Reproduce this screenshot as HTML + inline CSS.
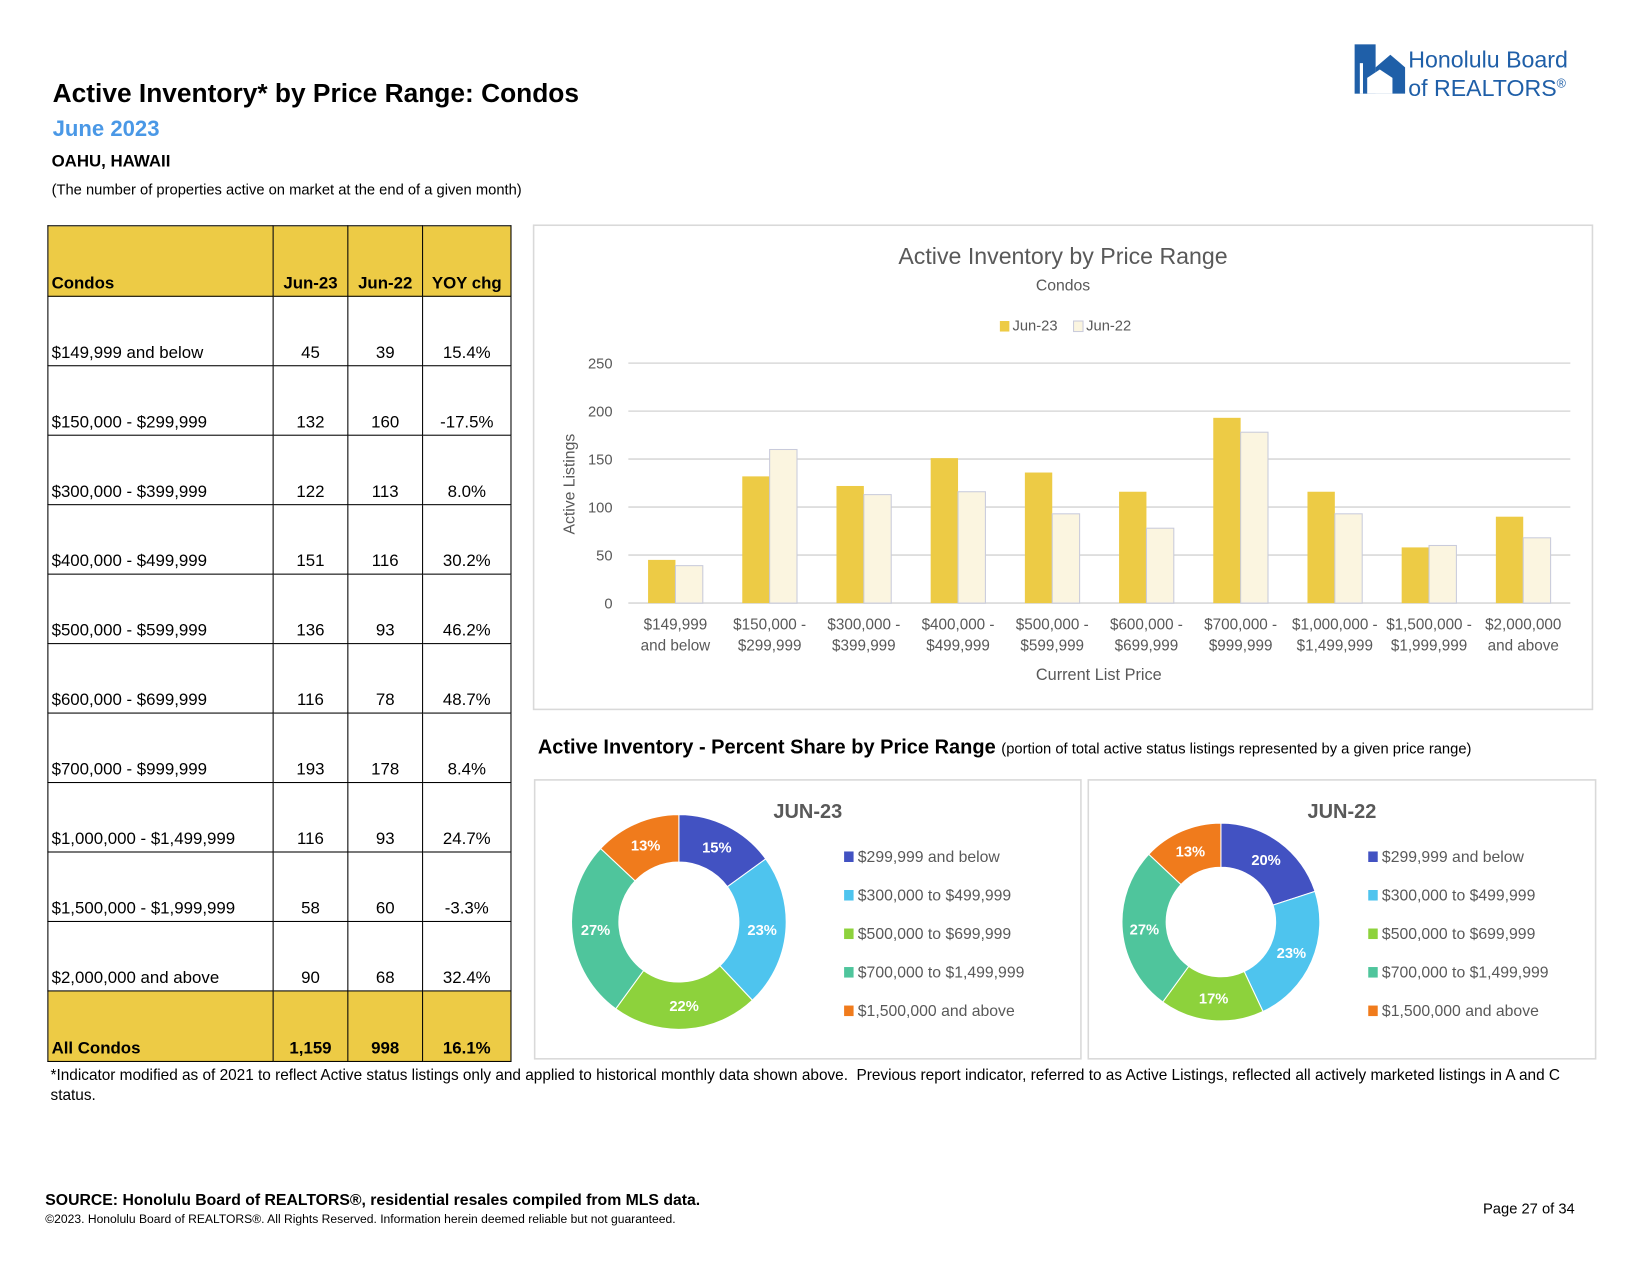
<!DOCTYPE html>
<html><head><meta charset="utf-8"><style>
html,body{margin:0;padding:0;background:#fff;}
body{width:1650px;height:1275px;overflow:hidden;position:relative;font-family:"Liberation Sans",sans-serif;}
#wrap{position:absolute;left:0;top:0;width:1560px;height:1205px;transform:scale(1.0525);transform-origin:0 0;}
.abs{position:absolute;}
table{border-collapse:collapse;position:absolute;left:45px;top:214px;font-size:16px;}
td{border:1.5px solid #000;padding:0 3px 2px 3px;vertical-align:bottom;height:63px;}
td.n{text-align:center;}
tr.h td{background:#EDCB45;font-weight:bold;height:64px;}
</style></head><body>
<div id="wrap">
<div class="abs" style="left:50px;top:75px;font-size:25px;font-weight:bold;">Active Inventory* by Price Range: Condos</div>
<div class="abs" style="left:50px;top:111px;font-size:21px;font-weight:bold;color:#4A98E6;">June 2023</div>
<div class="abs" style="left:49px;top:145px;font-size:16px;font-weight:bold;">OAHU, HAWAII</div>
<div class="abs" style="left:49px;top:172px;font-size:14px;">(The number of properties active on market at the end of a given month)</div>
<div class="abs" style="left:1287px;top:42px;width:240px;height:50px;">
<svg width="50" height="48"><rect x="0" y="0" width="20" height="47" fill="#1F5FA8"/><polygon points="20,47 20,22 34,10 48,22 48,47" fill="#1F5FA8"/><polygon points="12,47 12,32 24,24 36,32 36,47" fill="#fff"/><rect x="5" y="18" width="3" height="29" fill="#fff"/></svg>
<div class="abs" style="left:51px;top:4px;color:#1F5FA8;font-size:22px;line-height:22px;white-space:nowrap;">Honolulu Board<br>of REALTORS<sup style="font-size:12px">®</sup></div>
</div>
<table>
<tr class="h"><td style="width:207px">Condos</td><td class="n" style="width:64px">Jun-23</td><td class="n" style="width:64px">Jun-22</td><td class="n" style="width:77px">YOY chg</td></tr>
<tr><td>$149,999 and below</td><td class="n">45</td><td class="n">39</td><td class="n">15.4%</td></tr>
<tr><td>$150,000 - $299,999</td><td class="n">132</td><td class="n">160</td><td class="n">-17.5%</td></tr>
<tr><td>$300,000 - $399,999</td><td class="n">122</td><td class="n">113</td><td class="n">8.0%</td></tr>
<tr><td>$400,000 - $499,999</td><td class="n">151</td><td class="n">116</td><td class="n">30.2%</td></tr>
<tr><td>$500,000 - $599,999</td><td class="n">136</td><td class="n">93</td><td class="n">46.2%</td></tr>
<tr><td>$600,000 - $699,999</td><td class="n">116</td><td class="n">78</td><td class="n">48.7%</td></tr>
<tr><td>$700,000 - $999,999</td><td class="n">193</td><td class="n">178</td><td class="n">8.4%</td></tr>
<tr><td>$1,000,000 - $1,499,999</td><td class="n">116</td><td class="n">93</td><td class="n">24.7%</td></tr>
<tr><td>$1,500,000 - $1,999,999</td><td class="n">58</td><td class="n">60</td><td class="n">-3.3%</td></tr>
<tr><td>$2,000,000 and above</td><td class="n">90</td><td class="n">68</td><td class="n">32.4%</td></tr>
<tr class="h"><td>All Condos</td><td class="n">1,159</td><td class="n">998</td><td class="n">16.1%</td></tr>
</table>
<svg id="bar" class="abs" style="left:0;top:0" width="1560" height="1205"></svg>
<div class="abs" style="left:511px;top:700px;font-size:19px;font-weight:bold;">Active Inventory - Percent Share by Price Range <span style="font-size:14px;font-weight:normal">(portion of total active status listings represented by a given price range)</span></div>
<div class="abs" style="left:48px;top:1013px;width:1475px;font-size:14.6px;line-height:19px;">*Indicator modified as of 2021 to reflect Active status listings only and applied to historical monthly data shown above.&nbsp; Previous report indicator, referred to as Active Listings, reflected all actively marketed listings in A and C status.</div>
<div class="abs" style="left:43px;top:1132px;font-size:15px;font-weight:bold;">SOURCE: Honolulu Board of REALTORS®, residential resales compiled from MLS data.</div>
<div class="abs" style="left:43px;top:1153px;font-size:11.5px;">©2023. Honolulu Board of REALTORS®. All Rights Reserved. Information herein deemed reliable but not guaranteed.</div>
<div class="abs" style="left:1409px;top:1140px;font-size:14px;">Page 27 of 34</div>
</div>
<script>
const categories=[["$149,999","and below"],["$150,000 -","$299,999"],["$300,000 -","$399,999"],["$400,000 -","$499,999"],["$500,000 -","$599,999"],["$600,000 -","$699,999"],["$700,000 -","$999,999"],["$1,000,000 -","$1,499,999"],["$1,500,000 -","$1,999,999"],["$2,000,000","and above"]];
const jun23=[45,132,122,151,136,116,193,116,58,90];
const jun22=[39,160,113,116,93,78,178,93,60,68];
const yTicks=[0,50,100,150,200,250];
const pieLabels=["$299,999 and below","$300,000 to $499,999","$500,000 to $699,999","$700,000 to $1,499,999","$1,500,000 and above"];
const pie23=[15,23,22,27,13];
const pie22=[20,23,17,27,13];
const pieColors=["#4252C2","#4EC4EE","#8DD23C","#4FC59C","#F07B1C"];
const NS="http://www.w3.org/2000/svg";
const svg=document.getElementById('bar');
function mk(tag,attrs,parent){const e=document.createElementNS(NS,tag);for(const k in attrs)e.setAttribute(k,attrs[k]);(parent||svg).appendChild(e);return e;}
function txt(s,attrs,parent){const e=mk('text',attrs,parent);e.textContent=s;return e;}
const F='"Liberation Sans",sans-serif';
let b=mk('rect',{x:507,y:214,width:1006,height:460,fill:'#fff',stroke:'#D9D9D9','stroke-width':1.5});

const x0=597,x1=1492,yb=573,yt=345;
const ys=v=>yb-(v/250)*(yb-yt);
const cw=(x1-x0)/categories.length;
const xc=i=>x0+cw*(i+0.5);
yTicks.forEach(t=>{
 const l=mk('line',{x1:x0,x2:x1,y1:ys(t),y2:ys(t),stroke:'#D9D9D9','stroke-width':1.5});
 
 const tl=txt(String(t),{x:582,y:ys(t)+5,'text-anchor':'end','font-size':14,fill:'#595959','font-family':F});
 
});
const bw=26;
categories.forEach((c,i)=>{
 const r1=mk('rect',{x:xc(i)-bw,y:ys(jun23[i]),width:bw,height:yb-ys(jun23[i]),fill:'#EDCB45'});
 
 const r2=mk('rect',{x:xc(i),y:ys(jun22[i]),width:bw,height:yb-ys(jun22[i]),fill:'#FBF5E0',stroke:'#C9CBDB','stroke-width':1});
 
 c.forEach((s,j)=>{const t=txt(s,{x:xc(i),y:598+j*20,'text-anchor':'middle','font-size':14.5,fill:'#595959','font-family':F});
 });
});
let t;
t=txt('Active Inventory by Price Range',{x:1010,y:251,'text-anchor':'middle','font-size':22,fill:'#595959','font-family':F});
t=txt('Condos',{x:1010,y:276,'text-anchor':'middle','font-size':15,fill:'#595959','font-family':F});
t=txt('Current List Price',{x:1044,y:646,'text-anchor':'middle','font-size':15.5,fill:'#595959','font-family':F});
t=txt('Active Listings',{x:0,y:0,'text-anchor':'middle','font-size':15,fill:'#595959','font-family':F,transform:'translate(546,460) rotate(-90)'});
let lg=mk('rect',{x:950,y:305,width:9,height:10,fill:'#EDCB45'});
t=txt('Jun-23',{x:962,y:314,'font-size':14,fill:'#595959','font-family':F});
lg=mk('rect',{x:1020,y:305,width:9,height:10,fill:'#FBF5E0',stroke:'#C9CBDB'});
t=txt('Jun-22',{x:1032,y:314,'font-size':14,fill:'#595959','font-family':F});
function donut(vals,bx,bw2,cx,cy,R,r,title,lx,name){
 const fr=mk('rect',{x:bx,y:741,width:bw2,height:265,fill:'#fff',stroke:'#D9D9D9','stroke-width':1.5});
 
 const tt=txt(title,{x:bx+bw2/2,y:777,'text-anchor':'middle','font-size':19,'font-weight':'bold',fill:'#595959','font-family':F});
 
 const tot=vals.reduce((a,v)=>a+v,0);let a=-Math.PI/2;
 vals.forEach((v,i)=>{
  const a2=a+v/tot*2*Math.PI;const lg2=(a2-a)>Math.PI?1:0;
  const p=(ang,rad)=>(cx+rad*Math.cos(ang)).toFixed(2)+','+(cy+rad*Math.sin(ang)).toFixed(2);
  const s=mk('path',{d:`M${p(a,R)} A${R},${R} 0 ${lg2} 1 ${p(a2,R)} L${p(a2,r)} A${r},${r} 0 ${lg2} 0 ${p(a,r)} Z`,fill:pieColors[i],stroke:'#fff','stroke-width':1});
  
  const m=(a+a2)/2,rm=(R+r)/2;
  const l=txt(Math.round(v/tot*100)+'%',{x:cx+rm*Math.cos(m),y:cy+rm*Math.sin(m)+5,'text-anchor':'middle','font-size':14,'font-weight':'bold',fill:'#fff','font-family':F});
  
  a=a2;
  const sw=mk('rect',{x:lx,y:809+i*36.6,width:9,height:10,fill:pieColors[i]});
  
  const lt=txt(pieLabels[i],{x:lx+13,y:819+i*36.6,'font-size':15,fill:'#595959','font-family':F});
  
 });
}
donut(pie23,508,519,645,876,102,57,'JUN-23',802,'donut-jun23');
donut(pie22,1034,482,1160,876,94,52,'JUN-22',1300,'donut-jun22');
</script>
</body></html>
